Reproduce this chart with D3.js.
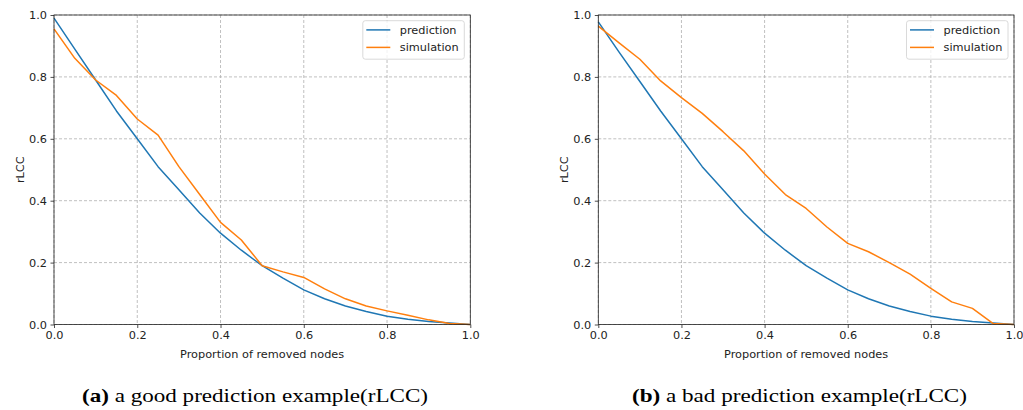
<!DOCTYPE html>
<html><head><meta charset="utf-8">
<script src="https://cdn.jsdelivr.net/npm/d3@7"></script>
<style>body{margin:0;background:#fff;} svg{display:block;}</style>
</head><body>
<svg id="c" width="1023" height="410"></svg>
<script>
const xValues = [0,0.05,0.1,0.15,0.2,0.25,0.3,0.35,0.4,0.45,0.5,0.55,0.6,0.65,0.7,0.75,0.8,0.85,0.9,0.95,1.0];
const predA = [0.99,0.89,0.79,0.69,0.60,0.51,0.435,0.36,0.295,0.24,0.19,0.15,0.112,0.083,0.06,0.042,0.027,0.017,0.01,0.005,0];
const simA  = [0.955,0.86,0.79,0.74,0.664,0.612,0.51,0.42,0.33,0.273,0.19,0.17,0.152,0.115,0.083,0.06,0.044,0.03,0.015,0.003,0];
const predB = [0.978,0.88,0.785,0.69,0.60,0.51,0.435,0.36,0.295,0.24,0.19,0.15,0.112,0.083,0.06,0.042,0.027,0.017,0.01,0.005,0];
const simB  = [0.964,0.91,0.857,0.787,0.733,0.682,0.623,0.561,0.486,0.42,0.375,0.315,0.262,0.235,0.2,0.163,0.117,0.073,0.052,0.003,0];
const tickLabels = ["0.0","0.2","0.4","0.6","0.8","1.0"];
const tickValues = [0,0.2,0.4,0.6,0.8,1.0];
const seriesNames = ["prediction","simulation"];
const colors = ["#1f77b4","#ff7f0e"];
const captions = [["(a)"," a good prediction example(rLCC)"],["(b)"," a bad prediction example(rLCC)"]];

const svg = d3.select("#c");
const panels = [
  {x0:54, x1:470.3, y0:15, y1:324.5, pred:predA, sim:simA, cap:captions[0], capX0:82, capX1:428},
  {x0:598.3, x1:1014, y0:15, y1:324.5, pred:predB, sim:simB, cap:captions[1], capX0:632, capX1:967}
];
const font = "'DejaVu Sans', sans-serif";
const fs = 11.3;
panels.forEach(p => {
  const x = d3.scaleLinear().domain([0,1]).range([p.x0,p.x1]);
  const y = d3.scaleLinear().domain([0,1]).range([p.y1,p.y0]);
  const g = svg.append("g");
  g.append("g").selectAll("line").data(tickValues).join("line")
    .attr("x1",d=>x(d)).attr("x2",d=>x(d)).attr("y1",p.y0).attr("y2",p.y1)
    .attr("stroke","#b0b0b0").attr("stroke-width",0.8).attr("stroke-dasharray","3,2");
  g.append("g").selectAll("line").data(tickValues).join("line")
    .attr("y1",d=>y(d)).attr("y2",d=>y(d)).attr("x1",p.x0).attr("x2",p.x1)
    .attr("stroke","#b0b0b0").attr("stroke-width",0.8).attr("stroke-dasharray","3,2");
  const line = d3.line().x((d,i)=>x(xValues[i])).y(d=>y(d));
  [p.pred,p.sim].forEach((s,k)=>{
    g.append("path").datum(s).attr("d",line).attr("fill","none")
      .attr("stroke",colors[k]).attr("stroke-width",1.5).attr("stroke-linejoin","round");
  });
  const xa = g.append("g").attr("transform",`translate(0,${p.y1})`)
    .call(d3.axisBottom(x).tickValues(tickValues).tickFormat((d,i)=>tickLabels[i]).tickSize(3.5).tickPadding(3));
  const ya = g.append("g").attr("transform",`translate(${p.x0},0)`)
    .call(d3.axisLeft(y).tickValues(tickValues).tickFormat((d,i)=>tickLabels[i]).tickSize(3.5).tickPadding(3.5));
  [xa,ya].forEach(a=>{
    a.select(".domain").remove();
    a.selectAll("text").attr("font-family",font).attr("font-size",fs).attr("fill","#222");
    a.selectAll("line").attr("stroke","#222").attr("stroke-width",0.8);
  });
  g.append("rect").attr("x",p.x0).attr("y",p.y0).attr("width",p.x1-p.x0).attr("height",p.y1-p.y0)
    .attr("fill","none").attr("stroke","#222").attr("stroke-width",0.8);
  g.append("text").attr("x",(p.x0+p.x1)/2).attr("y",358).attr("text-anchor","middle")
    .attr("font-family",font).attr("font-size",fs).attr("fill","#222").text("Proportion of removed nodes");
  g.append("text").attr("transform",`translate(${p.x0-30},${(p.y0+p.y1)/2}) rotate(-90)`).attr("text-anchor","middle")
    .attr("font-family",font).attr("font-size",fs).attr("fill","#222").text("rLCC");
  const lx = p.x1-107.5, ly = p.y0+5.7;
  const lg = g.append("g").attr("transform",`translate(${lx},${ly})`);
  lg.append("rect").attr("width",101.5).attr("height",38.5).attr("rx",2.5)
    .attr("fill","#fff").attr("fill-opacity",0.8).attr("stroke","#d0d0d0").attr("stroke-width",0.8);
  seriesNames.forEach((n,k)=>{
    const yy = 9.2 + k*17.5;
    lg.append("line").attr("x1",3.5).attr("x2",27.5).attr("y1",yy).attr("y2",yy)
      .attr("stroke",colors[k]).attr("stroke-width",1.5);
    lg.append("text").attr("x",37).attr("y",yy+4).attr("font-family",font).attr("font-size",fs)
      .attr("fill","#222").text(n);
  });
  const t = svg.append("text").attr("x",p.capX0).attr("y",401.5)
    .attr("font-family","'Liberation Serif', serif").attr("font-size",19.5).attr("fill","#000")
    .attr("textLength",p.capX1-p.capX0).attr("lengthAdjust","spacingAndGlyphs");
  t.append("tspan").attr("font-weight","bold").text(p.cap[0]);
  t.append("tspan").text(p.cap[1]);
});
</script>
</body></html>
